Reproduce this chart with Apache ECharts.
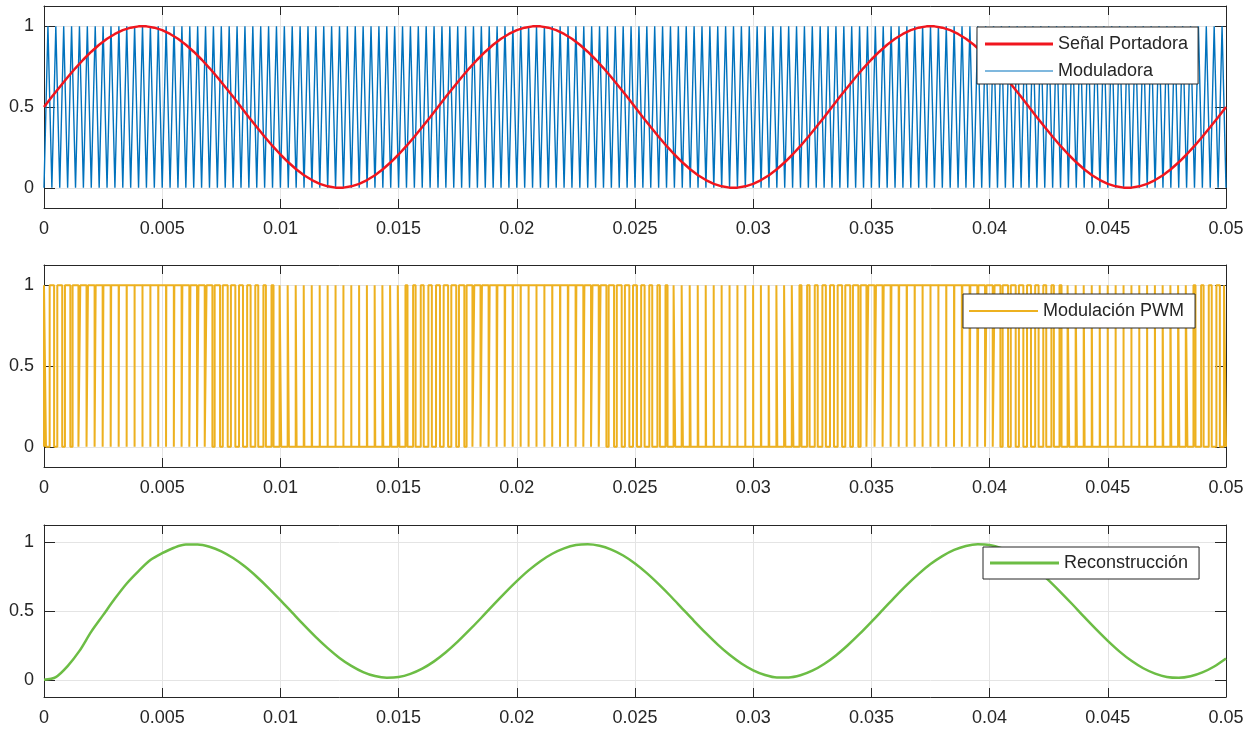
<!DOCTYPE html>
<html>
<head>
<meta charset="utf-8">
<script src="https://cdn.jsdelivr.net/npm/echarts@6/dist/echarts.min.js"></script>
<style>
  html, body { margin: 0; padding: 0; background: #fff; }
  #chart { width: 1253px; height: 732px; }
</style>
</head>
<body>
<div id="chart"></div>
<script>
// sample steps (s)
var pasoPortadora = 1 / 3000;   // one sample per carrier period
var pasoModuladora = 1 / 6000;  // triangle vertices (valley / peak)
var pasoReconst = 0.0005;

var ticksY = [0, 0.5, 1];

// red sine, one value per carrier period (also the PWM duty of that period)
var portadora = [
  0.500,0.563,0.624,0.684,0.741,0.794,0.842,0.885,0.922,0.952,0.976,0.991,0.999,0.999,0.991,0.976,0.952,0.922,0.885,0.842,0.794,0.741,0.684,0.624,0.563,
  0.500,0.437,0.376,0.316,0.259,0.206,0.158,0.115,0.078,0.048,0.024,0.009,0.001,0.001,0.009,0.024,0.048,0.078,0.115,0.158,0.206,0.259,0.316,0.376,0.437,
  0.500,0.563,0.624,0.684,0.741,0.794,0.842,0.885,0.922,0.952,0.976,0.991,0.999,0.999,0.991,0.976,0.952,0.922,0.885,0.842,0.794,0.741,0.684,0.624,0.563,
  0.500,0.437,0.376,0.316,0.259,0.206,0.158,0.115,0.078,0.048,0.024,0.009,0.001,0.001,0.009,0.024,0.048,0.078,0.115,0.158,0.206,0.259,0.316,0.376,0.437,
  0.500,0.563,0.624,0.684,0.741,0.794,0.842,0.885,0.922,0.952,0.976,0.991,0.999,0.999,0.991,0.976,0.952,0.922,0.885,0.842,0.794,0.741,0.684,0.624,0.563,
  0.500,0.437,0.376,0.316,0.259,0.206,0.158,0.115,0.078,0.048,0.024,0.009,0.001,0.001,0.009,0.024,0.048,0.078,0.115,0.158,0.206,0.259,0.316,0.376,0.437,
  0.500
];

// blue triangle, vertex values
var moduladora = [
  0,1,0,1,0,1,0,1,0,1,0,1,0,1,0,1,0,1,0,1,
  0,1,0,1,0,1,0,1,0,1,0,1,0,1,0,1,0,1,0,1,
  0,1,0,1,0,1,0,1,0,1,0,1,0,1,0,1,0,1,0,1,
  0,1,0,1,0,1,0,1,0,1,0,1,0,1,0,1,0,1,0,1,
  0,1,0,1,0,1,0,1,0,1,0,1,0,1,0,1,0,1,0,1,
  0,1,0,1,0,1,0,1,0,1,0,1,0,1,0,1,0,1,0,1,
  0,1,0,1,0,1,0,1,0,1,0,1,0,1,0,1,0,1,0,1,
  0,1,0,1,0,1,0,1,0,1,0,1,0,1,0,1,0,1,0,1,
  0,1,0,1,0,1,0,1,0,1,0,1,0,1,0,1,0,1,0,1,
  0,1,0,1,0,1,0,1,0,1,0,1,0,1,0,1,0,1,0,1,
  0,1,0,1,0,1,0,1,0,1,0,1,0,1,0,1,0,1,0,1,
  0,1,0,1,0,1,0,1,0,1,0,1,0,1,0,1,0,1,0,1,
  0,1,0,1,0,1,0,1,0,1,0,1,0,1,0,1,0,1,0,1,
  0,1,0,1,0,1,0,1,0,1,0,1,0,1,0,1,0,1,0,1,
  0,1,0,1,0,1,0,1,0,1,0,1,0,1,0,1,0,1,0,1,
  0
];

// green filtered output, every 0.5 ms
var reconstruccion = [
  0.000,0.020,0.100,0.210,0.350,0.470,0.590,0.700,0.790,0.870,0.920,0.960,
  0.983,0.983,0.967,0.934,0.885,0.823,0.749,0.667,0.579,0.488,0.397,0.310,0.230,0.159,0.101,0.056,0.027,0.015,
  0.020,0.043,0.081,0.134,0.200,0.277,0.362,0.451,0.543,0.632,0.717,0.795,0.862,0.916,0.955,0.979,0.985,0.974,
  0.946,0.903,0.845,0.775,0.695,0.609,0.518,0.427,0.339,0.256,0.182,0.119,0.069,0.035,0.017,0.017,0.033,0.066,
  0.115,0.177,0.251,0.333,0.421,0.512,0.603,0.690,0.770,0.841,0.899,0.944,0.973,0.985,0.980,0.957,0.919,0.866,
  0.800,0.723,0.638,0.549,0.457,0.368,0.283,0.205,0.138,0.084,0.045,0.021,0.015,0.026,0.054,0.097,0.155
];

function conTiempo(valores, paso) {
  return valores.map(function (v, i) { return [i * paso, v]; });
}

// PWM: high for duty*T around each carrier valley
function pulsos(duty, T) {
  var pts = [];
  var fin = (duty.length - 1) * T;
  duty.forEach(function (d, k) {
    var a = Math.max(0, k * T - d * T / 2);
    var b = Math.min(fin, k * T + d * T / 2);
    pts.push([a, 0], [a, 1], [b, 1], [b, 0]);
  });
  return pts;
}

var texto = '#262626';
var fuente = 'Liberation Sans, Arial, Helvetica, sans-serif';
var rejillas = [
  { left: 44, top: 6, width: 1182, height: 202 },
  { left: 44, top: 265, width: 1182, height: 202 },
  { left: 44, top: 525, width: 1182, height: 172 }
];

var xAxes = [], yAxes = [];
rejillas.forEach(function (g, i) {
  xAxes.push({
    type: 'value', gridIndex: i, min: 0, max: 0.05, interval: 0.005,
    axisLine: { onZero: false, lineStyle: { color: texto, width: 1 } },
    axisTick: { inside: true, length: 9, lineStyle: { color: texto } },
    axisLabel: { margin: 12, color: texto, fontSize: 18, fontFamily: fuente,
      formatter: function (v) { return String(+v.toFixed(3)); } },
    splitLine: { show: true, lineStyle: { color: '#e4e4e4', width: 1 } }
  });
  xAxes.push({
    type: 'value', gridIndex: i, position: 'top', min: 0, max: 0.05, interval: 0.005,
    axisLine: { onZero: false, lineStyle: { color: texto, width: 1 } },
    axisTick: { inside: true, length: 9, lineStyle: { color: texto } },
    axisLabel: { show: false }, splitLine: { show: false }
  });
  yAxes.push({
    type: 'value', gridIndex: i, min: -0.125, max: 1.125,
    axisLine: { show: true, onZero: false, lineStyle: { color: texto, width: 1 } },
    axisTick: { show: true, inside: true, length: 11, customValues: ticksY, lineStyle: { color: texto } },
    axisLabel: { margin: 10, color: texto, fontSize: 18, fontFamily: fuente, customValues: ticksY,
      formatter: function (v) { return String(v); } },
    splitLine: { show: true, lineStyle: { color: '#e4e4e4', width: 1 } }
  });
  yAxes.push({
    type: 'value', gridIndex: i, position: 'right', min: -0.125, max: 1.125,
    axisLine: { show: true, onZero: false, lineStyle: { color: texto, width: 1 } },
    axisTick: { show: true, inside: true, length: 11, customValues: ticksY, lineStyle: { color: texto } },
    axisLabel: { show: false }, splitLine: { show: false }
  });
});

var leyendaBase = {
  orient: 'vertical', selectedMode: false, itemHeight: 20, itemGap: 7,
  backgroundColor: '#fff', borderColor: texto, borderWidth: 1, borderRadius: 0,
  textStyle: { color: texto, fontSize: 18, fontFamily: fuente, lineHeight: 20 }
};
// flat bars used as legend line samples (aspect ratio gives the thickness)
var lineaGruesa = 'path://M0,0H68V3H0Z';
var lineaFina = 'path://M0,0H68V1.2H0Z';
var lineaMedia = 'path://M0,0H69V2H0Z';

var chart = echarts.init(document.getElementById('chart'));
chart.setOption({
  animation: false,
  grid: rejillas,
  xAxis: xAxes,
  yAxis: yAxes,
  legend: [
    Object.assign({}, leyendaBase, {
      left: 977, top: 27, itemWidth: 68, padding: [7, 10, 3, 8],
      data: [{ name: 'Señal Portadora', icon: lineaGruesa }, { name: 'Moduladora', icon: lineaFina }]
    }),
    Object.assign({}, leyendaBase, {
      left: 963, top: 294, itemWidth: 69, padding: [7, 11, 7, 6],
      data: [{ name: 'Modulación PWM', icon: lineaMedia }]
    }),
    Object.assign({}, leyendaBase, {
      left: 983, top: 547, itemWidth: 69, padding: [6, 11, 6, 7],
      data: [{ name: 'Reconstrucción', icon: 'path://M0,0H69V3H0Z' }]
    })
  ],
  series: [
    {
      name: 'Moduladora', type: 'line', xAxisIndex: 0, yAxisIndex: 0, symbol: 'none',
      data: conTiempo(moduladora, pasoModuladora), z: 2,
      lineStyle: { color: '#0072bd', width: 1.4 }, itemStyle: { color: '#0072bd' }
    },
    {
      name: 'Señal Portadora', type: 'line', xAxisIndex: 0, yAxisIndex: 0, symbol: 'none',
      data: conTiempo(portadora, pasoPortadora), z: 3,
      lineStyle: { color: '#f0161e', width: 2.5 }, itemStyle: { color: '#f0161e' }
    },
    {
      name: 'Modulación PWM', type: 'line', xAxisIndex: 2, yAxisIndex: 2, symbol: 'none',
      data: pulsos(portadora, pasoPortadora),
      lineStyle: { color: '#edb120', width: 2 }, itemStyle: { color: '#edb120' }
    },
    {
      name: 'Reconstrucción', type: 'line', xAxisIndex: 4, yAxisIndex: 4, symbol: 'none', smooth: 0.3,
      data: conTiempo(reconstruccion, pasoReconst),
      lineStyle: { color: '#6cbd45', width: 2.5 }, itemStyle: { color: '#6cbd45' }
    }
  ]
});
</script>
</body>
</html>
